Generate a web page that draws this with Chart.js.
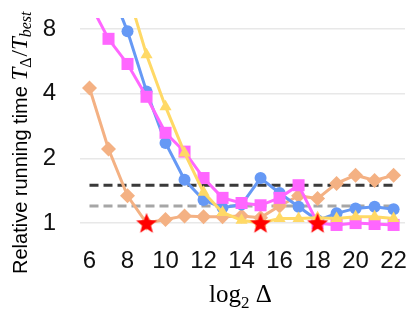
<!DOCTYPE html>
<html>
<head>
<meta charset="utf-8">
<script src="https://cdn.jsdelivr.net/npm/chart.js@4.4.0/dist/chart.umd.min.js"></script>
<style>
  html, body { margin: 0; padding: 0; background: #fff; }
  #wrap { width: 415px; height: 312px; }
</style>
</head>
<body>
<div id="wrap"><canvas id="grafico" width="415" height="312"></canvas></div>
<script>
// log2 of delta
const deltas = [6, 7, 8, 9, 10, 11, 12, 13, 14, 15, 16, 17, 18, 19, 20, 21, 22];

// relative running time per series (values above the top are cut off by the chart area)
const orangeTimes = [4.25, 2.21, 1.34, 1.0, 1.04, 1.08, 1.07, 1.07, 1.08, 1.06, 1.2, 1.34, 1.3, 1.53, 1.67, 1.58, 1.67];
const blueTimes   = [20, 13, 7.8, 4.1, 2.36, 1.59, 1.28, 1.18, 1.22, 1.62, 1.38, 1.19, 1.03, 1.11, 1.17, 1.19, 1.16];
const pinkTimes   = [10.6, 7.2, 5.5, 3.87, 2.63, 2.15, 1.62, 1.31, 1.24, 1.21, 1.31, 1.5, 1.0, 0.98, 1.0, 0.99, 0.98];
const yellowTimes = [30, 20, 12, 6.07, 3.48, 2.12, 1.39, 1.12, 1.03, 1.0, 1.05, 1.05, 1.06, 1.05, 1.07, 1.07, 1.05];

// best settings (stars)
const bestDeltas = [9, 15, 18];
const bestTimes = [1, 1, 1];

// reference levels
const blackLevel = 1.5;
const grayLevel = 1.2;

const xTicks = [6, 8, 10, 12, 14, 16, 18, 20, 22];
const yTicks = [1, 2, 4, 8];

const toPoints = (xs, ys) => xs.map((x, i) => ({ x, y: ys[i] }));

// filled red star for the best points
const star = document.createElement("canvas");
star.width = 24;
star.height = 24;
(function () {
  const c = star.getContext("2d");
  c.fillStyle = "#ff0000";
  c.beginPath();
  for (let i = 0; i < 10; i++) {
    const r = i % 2 === 0 ? 11 : 4.6;
    const a = -Math.PI / 2 + i * Math.PI / 5;
    const px = 12 + r * Math.cos(a);
    const py = 12.8 + r * Math.sin(a);
    if (i === 0) c.moveTo(px, py); else c.lineTo(px, py);
  }
  c.closePath();
  c.fill();
})();

// axis titles with subscripts
const axisTitles = {
  id: "axisTitles",
  afterDraw(chart) {
    const ctx = chart.ctx;
    ctx.save();
    ctx.fillStyle = "#000";
    ctx.textBaseline = "alphabetic";
    ctx.textAlign = "left";

    // y title
    ctx.translate(27, 274);
    ctx.rotate(-Math.PI / 2);
    let x = 0;
    const draw = (txt, font, dy) => {
      ctx.font = font;
      ctx.fillText(txt, x, dy);
      x += ctx.measureText(txt).width;
    };
    draw("Relative running time ", "20px 'Liberation Sans', Arial, sans-serif", 0);
    draw("T", "italic 23px 'Liberation Serif', serif", 0);
    draw("Δ", "16px 'Liberation Serif', serif", 4);
    x += 1;
    draw("/", "23px 'Liberation Serif', serif", 0);
    draw("T", "italic 23px 'Liberation Serif', serif", 0);
    draw("best", "italic 16px 'Liberation Serif', serif", 4);
    ctx.restore();

    // x title
    ctx.save();
    ctx.fillStyle = "#000";
    ctx.textBaseline = "alphabetic";
    ctx.textAlign = "left";
    const parts = [
      ["log", "25px 'Liberation Serif', serif", 0],
      ["2", "17px 'Liberation Serif', serif", 6],
      [" Δ", "25px 'Liberation Serif', serif", 0]
    ];
    let w = 0;
    parts.forEach(p => { ctx.font = p[1]; w += ctx.measureText(p[0]).width; });
    const area = chart.chartArea;
    let px = (area.left + area.right) / 2 - w / 2 - 2;
    parts.forEach(p => {
      ctx.font = p[1];
      ctx.fillText(p[0], px, 302 + p[2]);
      px += ctx.measureText(p[0]).width;
    });
    ctx.restore();
  }
};

const serie = (data, color, style, radius, order) => ({
  data: toPoints(deltas, data),
  borderColor: color,
  backgroundColor: color,
  borderWidth: 3,
  pointStyle: style,
  pointRadius: radius,
  pointBorderWidth: 0,
  order
});

new Chart(document.getElementById("grafico"), {
  type: "line",
  data: {
    datasets: [
      {
        data: toPoints(bestDeltas, bestTimes),
        showLine: false,
        pointStyle: star,
        order: 0
      },
      serie(yellowTimes, "#FFD966", "triangle", 7, 1),
      serie(pinkTimes, "#FF66FF", "rect", 8.5, 2),
      serie(blueTimes, "#6699F5", "circle", 6, 3),
      serie(orangeTimes, "#F4B183", "rectRot", 7.5, 4),
      {
        data: [{ x: 6, y: blackLevel }, { x: 22, y: blackLevel }],
        borderColor: "#3a3a3a",
        borderWidth: 3,
        borderDash: [9, 5],
        pointRadius: 0,
        order: 5
      },
      {
        data: [{ x: 6, y: grayLevel }, { x: 22, y: grayLevel }],
        borderColor: "#a6a6a6",
        borderWidth: 3,
        borderDash: [9, 5],
        pointRadius: 0,
        order: 6
      }
    ]
  },
  options: {
    responsive: false,
    animation: false,
    layout: { padding: { top: 18, right: 10, left: 0, bottom: 0 } },
    plugins: {
      legend: { display: false },
      tooltip: { enabled: false }
    },
    scales: {
      x: {
        type: "linear",
        min: 5.5,
        max: 22.6,
        afterBuildTicks: axis => { axis.ticks = xTicks.map(v => ({ value: v })); },
        afterFit: axis => {
          axis.height = 77;
          axis.paddingLeft = 0;
          axis.paddingRight = 0;
        },
        grid: { display: false },
        border: { display: false },
        ticks: {
          padding: 4,
          color: "#111",
          font: { family: "'Liberation Sans', Arial, sans-serif", size: 24 },
          maxRotation: 0,
          autoSkip: false
        }
      },
      y: {
        type: "logarithmic",
        min: 0.88,
        max: 9.0,
        afterBuildTicks: axis => { axis.ticks = yTicks.map(v => ({ value: v })); },
        afterFit: axis => {
          axis.width = 80;
          axis.paddingTop = 0;
          axis.paddingBottom = 0;
        },
        grid: { color: "#e8e8e8", lineWidth: 1.5, drawTicks: false },
        border: { display: false },
        ticks: {
          padding: 24,
          color: "#111",
          font: { family: "'Liberation Sans', Arial, sans-serif", size: 24 },
          callback: v => String(v)
        }
      }
    }
  },
  plugins: [axisTitles]
});
</script>
</body>
</html>
